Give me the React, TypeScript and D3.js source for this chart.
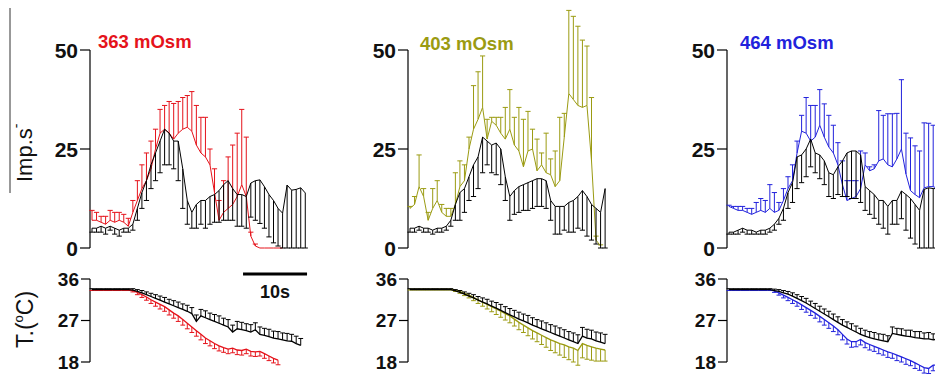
import React from "react";
import * as d3 from "d3";

// ---------- data ----------
const SAMPLE_S = 0.709; // seconds between samples
const RATE_TICKS = [0, 25, 50];
const TEMP_TICKS = [18, 27, 36];
const TITLES = ["363 mOsm", "403 mOsm", "464 mOsm"];
const COLORS = ["#e5131b", "#9b9b12", "#2222dc"];
const SCALE_BAR_S = 10;
const SCALE_BAR_START_S = 23.6;

// Panel 363 mOsm – firing rate (Imp/s)
const ctrlRate363 = [5, 5, 5.5, 5, 5.5, 5, 4.5, 5, 5, 6, 10, 14, 17, 21, 24, 27, 30, 29, 27, 27, 20, 12, 9, 11, 12, 12, 13, 13.5, 14.5, 16, 17, 15, 13.5, 13.5, 13, 16.4, 17, 17.2, 15.5, 13.5, 12, 10, 8.8, 15.9, 14.6, 14.8, 15.2, 13.9];
const ctrlRateErr363 = [1, 1, 1.5, 1.5, 1, 1.5, 1.5, 1, 1, 1.5, 3, 4, 5, 6, 7, 8, 9, 8, 7, 10, 10, 6, 4, 6, 6, 7, 7, 7, 8, 9, 10, 8, 8, 8, 8, 8.6, 10, 11, 10.5, 10.7, 10.7, 9.5, 8.8, 15.9, 14.6, 14.8, 15.2, 13.9];
const osmRate363 = [7, 7, 6.5, 6, 7, 6.5, 7, 6.5, 5.5, 9, 12, 15, 17, 20, 25, 29, 30, 29, 27.5, 29, 30, 30.5, 29.5, 26, 24, 23, 21, 14, 7, 9, 10, 11, 13, 16, 13, 3, 0.5, 0, 0, 0, 0, 0, 0];
const osmRateErr363 = [2.5, 2, 1.5, 2, 2.5, 2.5, 2, 2, 2, 3, 5, 6, 7, 7, 5, 6, 6, 8, 9, 8, 8, 8, 10, 10, 9, 10, 4, 6, 5, 8, 13, 15, 16, 19, 15, 1, 0.5, 0, 0, 0, 0, 0, 0];
// Panel 363 – temperature (°C)
const ctrlTemp363 = [33.7, 33.7, 33.7, 33.7, 33.7, 33.7, 33.7, 33.7, 33.7, 33.6, 33.3, 33.0, 32.6, 32.2, 31.8, 31.4, 31.0, 30.6, 30.2, 29.8, 29.4, 29.0, 28.5, 26.8, 28.0, 27.6, 27.2, 26.8, 26.4, 26.0, 25.6, 24.5, 25.2, 25.0, 24.8, 24.5, 25.0, 24.0, 23.8, 23.5, 23.2, 23.0, 22.8, 22.6, 22.5, 22.0, 21.6];
const ctrlTempErr363 = [0.2, 0.2, 0.2, 0.2, 0.2, 0.2, 0.2, 0.2, 0.2, 0.3, 0.4, 0.5, 0.6, 0.7, 0.8, 0.9, 1.0, 1.0, 1.1, 1.2, 1.2, 1.3, 1.3, 1.4, 1.4, 1.5, 1.4, 1.5, 1.6, 1.5, 1.6, 1.5, 1.6, 1.6, 1.5, 1.6, 1.5, 1.6, 1.5, 1.6, 1.5, 1.6, 1.5, 1.6, 1.5, 1.6, 1.5];
const osmTemp363 = [33.7, 33.7, 33.7, 33.7, 33.7, 33.7, 33.7, 33.7, 33.7, 33.5, 33.1, 32.6, 32.1, 31.5, 31.0, 30.5, 30.0, 29.3, 28.6, 28.0, 27.2, 26.4, 25.6, 24.8, 24.0, 23.2, 22.6, 22.0, 21.5, 21.1, 20.8, 21.0, 20.6, 20.5, 20.8, 20.3, 20.2, 20.3, 19.8, 19.3, 18.8, 18.4];
const osmTempErr363 = [0.2, 0.2, 0.2, 0.2, 0.2, 0.2, 0.2, 0.2, 0.2, 0.3, 0.5, 0.6, 0.7, 0.8, 0.9, 1.0, 1.0, 1.1, 1.1, 1.2, 1.2, 1.2, 1.2, 1.2, 1.2, 1.2, 1.1, 1.1, 1.1, 1.0, 1.0, 1.0, 1.0, 1.0, 1.0, 1.0, 1.0, 1.0, 1.0, 1.0, 1.0, 1.0];

// Panel 403 mOsm
const ctrlRate403 = [5, 5, 5.5, 5, 5, 4.5, 5, 5, 5.5, 7, 11, 14, 15, 18, 21, 23, 28, 27, 26, 26.5, 25, 18, 13, 14.5, 15.5, 16, 16.5, 17, 17.5, 17.5, 17, 12, 10.5, 10.5, 10.5, 11.5, 12, 13, 14.5, 13, 11, 10, 9, 15];
const ctrlRateErr403 = [1, 1, 1, 1, 1, 1, 1, 1, 1, 1.5, 4, 7, 6, 6, 8, 8, 9, 6, 7, 8, 9, 6, 6, 6, 6.5, 6.5, 7, 7, 7, 7, 7, 5, 7, 7, 6, 7.5, 8, 8, 10, 10, 9, 9, 9, 15];
const osmRate403 = [10, 11, 15.5, 13, 7, 10, 12, 9, 8, 8, 11, 15.5, 17, 25, 30, 32.5, 35.5, 27.5, 32, 31, 29, 27.5, 30, 26, 24.5, 20.5, 24.5, 25, 19.5, 21, 19, 18.5, 15.5, 17, 28, 39, 37.5, 36, 35.5, 36, 22, 2, 0.5];
const osmRateErr403 = [0.5, 2, 8, 2, 2, 5, 5, 2, 2, 2, 8, 6.5, 4, 3, 11, 12, 13, 5, 1, 2, 4, 8, 10, 7, 11, 12, 10, 5, 8, 3, 10, 4, 9, 16, 6, 21, 21, 20, 17, 15, 16, 1, 0.3];
const ctrlTemp403 = [33.7, 33.7, 33.7, 33.7, 33.7, 33.7, 33.7, 33.7, 33.7, 33.7, 33.4, 33.1, 32.7, 32.3, 31.9, 31.4, 31.0, 30.6, 30.1, 29.7, 29.2, 28.7, 28.2, 27.8, 27.3, 26.9, 26.5, 26.0, 25.6, 25.2, 24.8, 24.4, 24.0, 23.6, 23.2, 22.8, 22.4, 22.0, 23.6, 23.2, 23.0, 22.6, 22.3, 22.0];
const ctrlTempErr403 = [0.2, 0.2, 0.2, 0.2, 0.2, 0.2, 0.2, 0.2, 0.2, 0.2, 0.3, 0.4, 0.5, 0.6, 0.7, 0.8, 0.9, 1.0, 1.1, 1.2, 1.3, 1.3, 1.4, 1.4, 1.5, 1.5, 1.6, 1.6, 1.6, 1.7, 1.7, 1.7, 1.8, 1.8, 1.8, 1.8, 1.9, 1.9, 1.9, 1.9, 1.9, 1.9, 2.0, 2.0];
const osmTemp403 = [33.8, 33.8, 33.8, 33.8, 33.8, 33.8, 33.8, 33.8, 33.8, 33.8, 33.6, 33.3, 32.9, 32.5, 32.0, 31.5, 31.0, 30.5, 30.0, 29.5, 29.0, 28.5, 28.0, 27.3, 26.6, 26.0, 25.4, 24.8, 24.3, 23.8, 23.3, 22.8, 22.4, 22.0, 21.7, 21.3, 21.0, 20.5, 22.0, 21.6, 21.3, 21.0, 20.8, 20.6];
const osmTempErr403 = [0.2, 0.2, 0.2, 0.2, 0.2, 0.2, 0.2, 0.2, 0.2, 0.2, 0.3, 0.4, 0.5, 0.6, 0.7, 0.8, 0.9, 1.0, 1.1, 1.2, 1.3, 1.4, 1.5, 1.5, 1.6, 1.6, 1.7, 1.8, 1.9, 2.0, 2.1, 2.3, 2.4, 2.5, 2.7, 2.8, 3.0, 3.2, 3.1, 3.0, 2.9, 2.8, 2.6, 2.4];

// Panel 464 mOsm
const ctrlRate464 = [4, 4, 4.5, 5, 4.5, 4.5, 4, 4.5, 4.5, 5, 6, 7.5, 10, 14, 16.5, 23, 23.5, 25, 27.5, 24, 23.5, 22, 19, 18.5, 20.5, 22, 24, 24.5, 24.5, 23.5, 15.5, 14.5, 13.5, 12, 12, 10.5, 12, 12, 14.4, 13.5, 12.5, 11, 9.5, 14.8, 15.2, 15, 15, 14.5];
const ctrlRateErr464 = [0.5, 0.5, 1, 1, 1, 1, 0.5, 1, 1, 1, 1.5, 1.5, 3, 4, 5, 8, 7, 7, 7, 5, 6, 6, 6, 6, 7, 9, 11, 12, 12, 12, 6, 6, 6, 6, 7, 7, 6, 6, 7, 9, 10, 10, 9.5, 14.8, 15.2, 15, 15, 14.5];
const osmRate464 = [10.5, 10, 9.5, 9.5, 9, 8.5, 9, 9.5, 9, 10, 9, 9.5, 12, 15, 17, 24, 29.5, 29, 27, 28, 31, 28, 25.5, 24, 21, 16, 12, 12.5, 13, 15, 21, 19.5, 20, 22, 22.5, 21, 20.5, 22.5, 25, 18.7, 14.5, 13.5, 12.7, 15.2, 15.5, 15.5, 15, 15];
const osmRateErr464 = [0.3, 0.5, 1, 1, 1, 1.5, 2.5, 3, 3, 6, 5, 2, 3, 3, 4, 3, 4, 9, 9, 8, 9, 8.4, 8, 7, 5.6, 6, 5, 4.5, 4, 9.5, 3, 1, 1, 12.7, 11, 12.9, 13.4, 11.5, 17.5, 10.3, 13.3, 12.3, 11.8, 16.4, 16, 15.5, 16, 16];
const ctrlTemp464 = [33.7, 33.7, 33.7, 33.7, 33.7, 33.7, 33.7, 33.7, 33.7, 33.7, 33.5, 33.3, 33.0, 32.7, 32.3, 31.8, 31.3, 30.8, 30.2, 29.6, 29.0, 28.4, 27.8, 27.2, 26.6, 26.0, 25.5, 25.0, 24.5, 24.0, 23.6, 23.3, 23.0, 22.8, 22.6, 22.4, 24.2, 24.0, 23.8, 23.6, 23.5, 23.3, 23.2, 23.0, 23.0, 22.8, 23.0, 23.0];
const ctrlTempErr464 = [0.2, 0.2, 0.2, 0.2, 0.2, 0.2, 0.2, 0.2, 0.2, 0.2, 0.3, 0.4, 0.5, 0.6, 0.7, 0.8, 0.9, 1.0, 1.0, 1.1, 1.1, 1.1, 1.2, 1.2, 1.2, 1.2, 1.2, 1.3, 1.3, 1.3, 1.3, 1.3, 1.4, 1.3, 1.4, 1.3, 1.4, 1.3, 1.4, 1.3, 1.4, 1.3, 1.4, 1.3, 1.4, 1.3, 1.4, 1.3];
const osmTemp464 = [33.7, 33.7, 33.7, 33.7, 33.7, 33.7, 33.7, 33.7, 33.7, 33.7, 33.4, 33.0, 32.5, 32.0, 31.5, 31.0, 30.4, 29.8, 29.2, 28.6, 27.9, 27.2, 26.5, 25.8, 25.0, 24.0, 23.0, 22.4, 22.4, 22.9, 22.2, 21.8, 21.4, 21.0, 20.6, 20.2, 19.9, 19.5, 19.1, 18.7, 18.3, 17.8, 17.3, 16.8, 16.6, 17.3, 17.4, 17.2];
const osmTempErr464 = [0.2, 0.2, 0.2, 0.2, 0.2, 0.2, 0.2, 0.2, 0.2, 0.2, 0.3, 0.5, 0.6, 0.7, 0.8, 0.9, 1.0, 1.0, 1.1, 1.1, 1.2, 1.2, 1.2, 1.2, 1.1, 1.2, 1.1, 1.2, 1.1, 1.2, 1.1, 1.2, 1.1, 1.2, 1.1, 1.2, 1.1, 1.2, 1.1, 1.2, 1.1, 1.2, 1.1, 1.2, 1.1, 1.2, 1.1, 1.2];

// ---------- layout ----------
const W = 935;
const H = 377;
const AXIS_X = [90, 408, 727];
const TITLE_DX = [8, 12, 13];
const TITLE_Y = [48, 50, 49];
const RATE_Y = [248, 50]; // pixel for 0 and 50
const TEMP_Y = [362, 279]; // pixel for 18 and 36
const PX_PER_10S = 64;
const FONT = "Arial, 'Liberation Sans', Helvetica, sans-serif";

const rateSets = [
  [ctrlRate363, ctrlRateErr363, osmRate363, osmRateErr363],
  [ctrlRate403, ctrlRateErr403, osmRate403, osmRateErr403],
  [ctrlRate464, ctrlRateErr464, osmRate464, osmRateErr464],
];
const tempSets = [
  [ctrlTemp363, ctrlTempErr363, osmTemp363, osmTempErr363],
  [ctrlTemp403, ctrlTempErr403, osmTemp403, osmTempErr403],
  [ctrlTemp464, ctrlTempErr464, osmTemp464, osmTempErr464],
];

type Scale = d3.ScaleLinear<number, number>;

function errPath(x: Scale, y: Scale, vals: number[], errs: number[], dir: number, half: number) {
  let d = "";
  vals.forEach((v, i) => {
    const e = errs[i];
    if (!(e > 0)) return;
    const xi = x(i * SAMPLE_S);
    const y0 = y(v);
    const y1 = y(v + dir * e);
    d += `M${xi.toFixed(2)},${y0.toFixed(2)}V${y1.toFixed(2)}M${(xi - half).toFixed(2)},${y1.toFixed(2)}H${(xi + half).toFixed(2)}`;
  });
  return d;
}

function linePath(x: Scale, y: Scale, vals: number[]) {
  return (
    d3
      .line<number>()
      .x((_, i) => x(i * SAMPLE_S))
      .y((v) => y(v))(vals) || ""
  );
}

function Panel({ p }: { p: number }) {
  const ax = AXIS_X[p];
  const start = ax + 2;
  const x = d3.scaleLinear().domain([0, 10]).range([start, start + PX_PER_10S]);
  const yR = d3.scaleLinear().domain([0, 50]).range(RATE_Y);
  const yT = d3.scaleLinear().domain([18, 36]).range(TEMP_Y);
  const [cR, cRe, oR, oRe] = rateSets[p];
  const [cT, cTe, oT, oTe] = tempSets[p];
  const col = COLORS[p];
  return (
    <g>
      {/* rate axis */}
      <line x1={ax} x2={ax} y1={yR(0)} y2={yR(50)} stroke="#000" strokeWidth={1.2} />
      {RATE_TICKS.map((t) => (
        <g key={"r" + t}>
          <line x1={ax - 10} x2={ax} y1={yR(t)} y2={yR(t)} stroke="#000" strokeWidth={1.2} />
          <text x={ax - 12} y={yR(t)} dy="0.36em" textAnchor="end" fontSize={21} fontWeight="bold" fontFamily={FONT} fill="#111">
            {t}
          </text>
        </g>
      ))}
      <text x={ax + TITLE_DX[p]} y={TITLE_Y[p]} fontSize={18.5} fontWeight="bold" fontFamily={FONT} fill={col}>
        {TITLES[p]}
      </text>
      {/* osmotic series (upward SEM) */}
      <path d={errPath(x, yR, oR, oRe, 1, 2.6)} stroke={col} strokeWidth={1} fill="none" />
      <path d={linePath(x, yR, oR)} stroke={col} strokeWidth={1} fill="none" />
      {/* control series (downward SEM) */}
      <path d={errPath(x, yR, cR, cRe, -1, 2.6)} stroke="#000" strokeWidth={1} fill="none" />
      <path d={linePath(x, yR, cR)} stroke="#000" strokeWidth={1} fill="none" />

      {/* temperature axis */}
      <line x1={ax} x2={ax} y1={yT(18)} y2={yT(36)} stroke="#000" strokeWidth={1.2} />
      {TEMP_TICKS.map((t) => (
        <g key={"t" + t}>
          <line x1={ax - 9} x2={ax} y1={yT(t)} y2={yT(t)} stroke="#000" strokeWidth={1.2} />
          <text x={ax - 11} y={yT(t)} dy="0.36em" textAnchor="end" fontSize={19} fontWeight="bold" fontFamily={FONT} fill="#111">
            {t}
          </text>
        </g>
      ))}
      <path d={errPath(x, yT, oT, oTe, -1, 2.4)} stroke={col} strokeWidth={1} fill="none" />
      <path d={linePath(x, yT, oT)} stroke={col} strokeWidth={1.3} fill="none" />
      <path d={errPath(x, yT, cT, cTe, 1, 2.4)} stroke="#000" strokeWidth={1} fill="none" />
      <path d={linePath(x, yT, cT)} stroke="#000" strokeWidth={1.3} fill="none" />
    </g>
  );
}

export default function App() {
  const x1 = d3.scaleLinear().domain([0, 10]).range([AXIS_X[0] + 2, AXIS_X[0] + 2 + PX_PER_10S]);
  const sb0 = x1(SCALE_BAR_START_S);
  const sb1 = x1(SCALE_BAR_START_S + SCALE_BAR_S);
  return (
    <svg width={W} height={H} style={{ position: "absolute", left: 0, top: 0, background: "#fff" }}>
      <rect x={0} y={0} width={W} height={H} fill="#fff" />
      {[0, 1, 2].map((p) => (
        <Panel key={p} p={p} />
      ))}
      {/* left decorations */}
      <line x1={10} x2={10} y1={8} y2={193} stroke="#333" strokeWidth={1} />
      <text transform="translate(32,182) rotate(-90)" fontSize={22} fontFamily={FONT} fill="#111">
        Imp.s
        <tspan dy={-11} fontSize={14}>-</tspan>
      </text>
      <text transform="translate(33,348) rotate(-90)" fontSize={23} fontFamily={FONT} fill="#111">
        T.(
        <tspan dy={-10} fontSize={13}>o</tspan>
        <tspan dy={10}>C)</tspan>
      </text>
      {/* scale bar */}
      <line x1={sb0} x2={sb1} y1={274} y2={274} stroke="#000" strokeWidth={3} />
      <text x={(sb0 + sb1) / 2} y={298} textAnchor="middle" fontSize={18} fontWeight="bold" fontFamily={FONT} fill="#111">
        {SCALE_BAR_S}s
      </text>
    </svg>
  );
}
